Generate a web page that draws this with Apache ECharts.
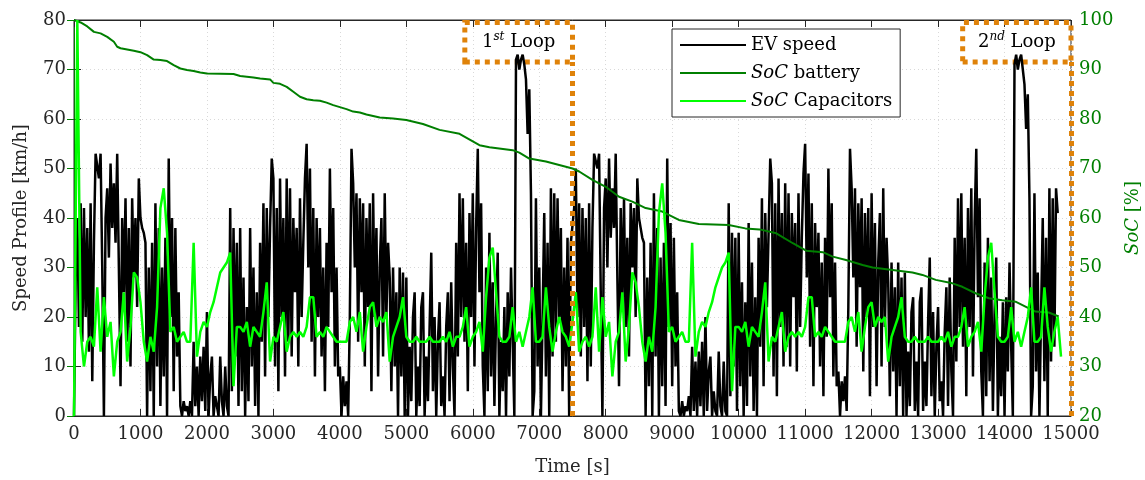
<!DOCTYPE html>
<html>
<head>
<meta charset="utf-8">
<script src="https://cdn.jsdelivr.net/npm/echarts@6/dist/echarts.min.js"></script>
<style>
  html, body { margin: 0; padding: 0; background: #fff; }
  #chart { width: 1145px; height: 480px; }
</style>
</head>
<body>
<div id="chart"></div>
<script>
// speed profile [km/h], one value every 25 s, loop 1 starts at 0 s, loop 2 at 7500 s
const speedStep = 25;
const speedLoop1 = [
  0, 28, 40, 18, 43, 15, 42, 20, 38, 13,
  43, 7, 35, 53, 53, 48, 53, 30, 0, 40,
  46, 32, 51, 38, 47, 35, 53, 30, 6, 40,
  25, 44, 15, 38, 10, 44, 28, 40, 22, 48,
  40, 38, 37, 35, 0, 30, 5, 35, 0, 43,
  10, 38, 2, 30, 8, 36, 0, 52, 20, 40,
  5, 38, 12, 25, 2, 0, 3, 1, 2, 0,
  3, 0, 15, 2, 10, 0, 12, 3, 14, 1,
  21, 0, 8, 12, 0, 4, 2, 0, 12, 3,
  0, 10, 2, 0, 42, 5, 38, 12, 35, 2,
  38, 5, 28, 0, 22, 3, 38, 10, 30, 2,
  25, 0, 35, 15, 43, 8, 42, 20, 38, 52,
  48, 10, 42, 5, 48, 20, 40, 8, 48, 15,
  46, 12, 40, 25, 38, 10, 44, 20, 35, 48,
  55, 30, 50, 15, 42, 8, 40, 20, 38, 12,
  30, 5, 35, 18, 50, 25, 42, 10, 30, 8,
  10, 0, 8, 2, 7, 0, 20, 54, 47, 30,
  45, 15, 44, 25, 43, 10, 40, 22, 43, 5,
  45, 20, 38, 8, 30, 40, 12, 45, 20, 35,
  28, 5, 30, 10, 25, 0, 30, 8, 29, 0,
  28, 0, 14, 3, 20, 25, 0, 10, 2, 22,
  25, 0, 12, 3, 18, 33, 5, 20, 0, 15,
  23, 2, 8, 0, 18, 25, 3, 27, 10, 0,
  35, 12, 45, 20, 44, 15, 35, 5, 41, 20,
  45, 10, 38, 54, 25, 43, 10, 0, 30, 5,
  37, 8, 27, 2, 20, 33, 0, 15, 5, 22,
  0, 25, 8, 30, 15, 0, 72, 73, 70, 72,
  73, 71, 68, 57, 66, 45, 0, 5, 44, 10,
  30, 0, 20, 41, 8, 35, 0, 46, 12, 45,
  15, 44, 20, 38, 5, 30, 10, 36, 0, 35
];
const speedLoop2 = [
  35, 42, 50, 20, 43, 12, 42, 18, 40, 7,
  43, 10, 38, 53, 53, 50, 53, 25, 0, 42,
  48, 30, 52, 36, 46, 38, 53, 28, 6, 42,
  22, 44, 18, 36, 12, 43, 30, 42, 20, 48,
  40, 38, 36, 35, 0, 28, 6, 35, 0, 45,
  12, 38, 0, 32, 6, 35, 2, 52, 18, 39,
  6, 36, 10, 25, 1, 0, 3, 0, 2, 1,
  4, 0, 14, 1, 11, 0, 13, 2, 15, 0,
  20, 1, 9, 12, 0, 5, 1, 0, 13, 2,
  0, 11, 1, 0, 43, 4, 37, 10, 36, 1,
  37, 6, 27, 0, 23, 2, 39, 8, 31, 1,
  24, 0, 36, 14, 44, 6, 41, 22, 37, 52,
  47, 8, 43, 4, 48, 18, 41, 10, 47, 14,
  45, 10, 41, 24, 39, 9, 45, 18, 36, 49,
  55, 28, 49, 14, 43, 6, 39, 22, 37, 10,
  31, 4, 36, 16, 50, 24, 43, 8, 31, 6,
  9, 0, 7, 3, 8, 1, 22, 54, 46, 28,
  46, 14, 43, 26, 44, 9, 41, 20, 42, 4,
  45, 18, 39, 6, 31, 41, 10, 46, 18, 36,
  27, 4, 31, 9, 26, 0, 31, 6, 28, 0,
  29, 0, 13, 2, 21, 24, 1, 11, 0, 23,
  26, 1, 11, 2, 19, 32, 4, 21, 0, 14,
  22, 3, 7, 0, 17, 26, 2, 28, 9, 0,
  36, 11, 44, 18, 45, 14, 36, 4, 42, 18,
  46, 8, 39, 54, 24, 44, 9, 0, 31, 4,
  36, 7, 28, 1, 21, 32, 0, 16, 4, 23,
  0, 24, 9, 31, 14, 0, 71, 73, 70, 72,
  73, 70, 67, 58, 65, 44, 0, 6, 45, 9,
  29, 0, 21, 40, 7, 36, 0, 46, 11, 44,
  14, 46, 41
];

// capacitor SoC [%], one value every 50 s
const capStep = 50;
const capLoop1 = [
  20, 100, 37, 30, 35, 36, 34, 46, 33, 44,
  36, 39, 28, 35, 37, 45, 31, 38, 49, 48,
  43, 35, 31, 36, 33, 42, 62, 66, 57, 37,
  38, 35, 36, 37, 35, 35, 55, 32, 37, 39,
  38, 41, 43, 46, 49, 50, 51, 53, 26, 38,
  38, 37, 39, 34, 38, 37, 36, 41, 47, 31,
  36, 35, 38, 41, 33, 36, 37, 36, 37, 36,
  38, 44, 44, 36, 37, 36, 38, 37, 36, 35,
  35, 35, 35, 39, 40, 37, 41, 33, 38, 42,
  43, 38, 40, 39, 41, 31, 36, 38, 40, 44,
  36, 35, 35, 36, 35, 35, 35, 36, 35, 35,
  35, 36, 35, 37, 34, 36, 36, 38, 42, 34,
  36, 37, 39, 33, 44, 52, 54, 45, 36, 35,
  35, 36, 42, 35, 37, 34, 37, 40, 46, 35,
  35, 36, 46, 38, 33, 37, 40, 37, 36, 34
];
const capLoop2 = [
  39, 45, 33, 35, 36, 34, 36, 46, 33, 44,
  36, 39, 28, 35, 37, 45, 31, 38, 49, 47,
  42, 35, 31, 36, 33, 42, 61, 67, 57, 37,
  38, 35, 36, 37, 35, 35, 55, 32, 37, 39,
  38, 41, 43, 46, 48, 50, 51, 53, 25, 38,
  38, 37, 39, 34, 38, 37, 36, 41, 47, 31,
  36, 35, 38, 41, 33, 36, 37, 36, 37, 36,
  38, 44, 44, 36, 37, 36, 38, 37, 36, 35,
  35, 35, 35, 39, 40, 37, 41, 33, 38, 42,
  43, 38, 40, 39, 40, 31, 36, 38, 40, 44,
  36, 35, 35, 36, 35, 35, 35, 36, 35, 35,
  35, 36, 35, 37, 34, 36, 36, 38, 42, 34,
  36, 37, 39, 33, 44, 52, 55, 45, 36, 35,
  35, 36, 42, 35, 37, 34, 37, 40, 46, 35,
  35, 36, 46, 38, 33, 37, 40, 32
];

// battery SoC [%]
const battTime = [0, 100, 200, 300, 400, 500, 600, 650, 700, 900, 1000, 1100, 1200, 1300, 1400, 1500,
  1600, 1700, 1800, 1900, 2000, 2400, 2500, 2700, 2800, 2950, 3000, 3100, 3200, 3300, 3400, 3500,
  3600, 3700, 3800, 3900, 4000, 4100, 4200, 4300, 4400, 4500, 4600, 4800, 5000, 5250, 5500, 5800,
  6100, 6250, 6600, 6700, 6850, 7100, 7300, 7500, 7600, 7800, 8000, 8200, 8400, 8600, 8850, 9100,
  9400, 9850, 10100, 10316, 10566, 10815, 11015, 11265, 11415, 11615, 11865, 12015, 12315, 12615,
  12765, 12965, 13215, 13365, 13565, 13765, 13965, 14165, 14315, 14465, 14665, 14815];
const battSoC = [100, 99.5, 98.7, 97.6, 97.3, 96.6, 95.6, 94.6, 94.3, 93.8, 93.5, 92.9, 92.0, 91.9, 91.7, 90.9,
  90.2, 89.9, 89.7, 89.4, 89.2, 89.1, 88.7, 88.4, 88.2, 88.0, 87.3, 87.1, 86.5, 85.5, 84.5, 84.0,
  83.8, 83.7, 83.3, 82.8, 82.4, 82.0, 81.5, 81.3, 80.9, 80.6, 80.3, 80.1, 79.8, 79.0, 77.8, 77.0,
  74.7, 74.3, 73.7, 73.2, 72.0, 71.4, 70.7, 70.0, 69.4, 67.7, 66.3, 64.3, 63.3, 62.0, 61.3, 59.6,
  58.8, 58.6, 57.9, 57.7, 56.9, 54.9, 53.4, 53.1, 52.2, 51.5, 50.5, 50.0, 49.5, 49.0,
  48.5, 47.5, 46.8, 46.1, 44.8, 43.8, 43.4, 43.1, 42.1, 41.1, 40.9, 40.1];

const loopStart = [0, 7500];
const xTicks = { min: 0, max: 15000, interval: 1000 };

const font = 'DejaVu Serif, Liberation Serif, serif';
const fs = 18;
const axisColor = '#262626';
const socColor = '#007F00';
const orange = '#DF8209';

function toPairs(values, start, step) {
  return values.map((v, i) => [start + i * step, v]);
}

const speedData = toPairs(speedLoop1, loopStart[0], speedStep)
  .concat(toPairs(speedLoop2, loopStart[1], speedStep));
const capData = toPairs(capLoop1, loopStart[0], capStep)
  .concat(toPairs(capLoop2, loopStart[1], capStep));
const battData = battTime.map((t, i) => [t, battSoC[i]]);

const chart = echarts.init(document.getElementById('chart'));

const dotted = [5, 5];
const plain = v => String(v);

chart.setOption({
  animation: false,
  textStyle: { fontFamily: font },
  grid: {
    left: 74, right: 74, top: 20, bottom: 64,
    outerBoundsMode: 'none', containLabel: false,
    show: true, borderColor: axisColor, borderWidth: 1
  },
  legend: {
    orient: 'vertical',
    left: 672,
    top: 29,
    padding: [6, 8, 6, 8],
    itemGap: 8,
    itemWidth: 66,
    itemHeight: 2,
    icon: 'rect',
    backgroundColor: '#fff',
    borderColor: axisColor,
    borderWidth: 1,
    data: ['EV speed', 'SoC battery', 'SoC Capacitors'],
    formatter: n => n.startsWith('SoC') ? '{i|SoC}' + n.slice(3) : n,
    textStyle: {
      fontFamily: font, fontSize: fs, color: '#000', lineHeight: 20,
      rich: { i: { fontStyle: 'italic', fontFamily: font, fontSize: fs } }
    }
  },
  xAxis: [{
    type: 'value',
    min: xTicks.min, max: xTicks.max, interval: xTicks.interval,
    name: 'Time [s]', nameLocation: 'middle', nameGap: 42,
    nameTextStyle: { fontFamily: font, fontSize: fs, color: axisColor },
    axisLine: { lineStyle: { color: axisColor } },
    axisTick: { inside: true, length: 7, lineStyle: { color: axisColor } },
    axisLabel: { fontFamily: font, fontSize: fs, color: axisColor, margin: 9, formatter: plain },
    splitLine: { show: true, lineStyle: { color: '#d9d9d9', type: [1, 3] } }
  }, {
    type: 'value', position: 'top',
    min: xTicks.min, max: xTicks.max, interval: xTicks.interval,
    axisLine: { lineStyle: { color: axisColor } },
    axisTick: { inside: true, length: 7, lineStyle: { color: axisColor } },
    axisLabel: { show: false },
    splitLine: { show: false }
  }],
  yAxis: [{
    type: 'value', min: 0, max: 80, interval: 10,
    name: 'Speed Profile [km/h]', nameLocation: 'middle', nameGap: 44,
    nameTextStyle: { fontFamily: font, fontSize: fs, color: axisColor },
    axisLine: { show: true, lineStyle: { color: axisColor } },
    axisTick: { show: true, inside: true, length: 7, lineStyle: { color: axisColor } },
    axisLabel: { fontFamily: font, fontSize: fs, color: axisColor, margin: 8 },
    splitLine: { show: true, lineStyle: { color: '#d9d9d9', type: [1, 3] } }
  }, {
    type: 'value', min: 20, max: 100, interval: 10, position: 'right',
    name: '{i|SoC} [%]', nameLocation: 'middle', nameGap: 46, nameRotate: 90,
    nameTextStyle: {
      fontFamily: font, fontSize: fs, color: socColor,
      rich: { i: { fontStyle: 'italic', fontFamily: font, fontSize: fs, color: socColor } }
    },
    axisLine: { show: true, lineStyle: { color: socColor } },
    axisTick: { show: true, inside: true, length: 7, lineStyle: { color: socColor } },
    axisLabel: { fontFamily: font, fontSize: fs, color: socColor, margin: 8 },
    splitLine: { show: false }
  }],
  series: [{
    name: 'EV speed', type: 'line', data: speedData,
    showSymbol: false, symbol: 'none',
    lineStyle: { color: '#000', width: 2.5 }, itemStyle: { color: '#000' }
  }, {
    name: 'SoC battery', type: 'line', yAxisIndex: 1, data: battData,
    showSymbol: false, symbol: 'none',
    lineStyle: { color: socColor, width: 2 }, itemStyle: { color: socColor }
  }, {
    name: 'SoC Capacitors', type: 'line', yAxisIndex: 1, data: capData,
    showSymbol: false, symbol: 'none',
    lineStyle: { color: '#00FF00', width: 2.5 }, itemStyle: { color: '#00FF00' }
  }, {
    name: 'loops', type: 'line', data: [], z: 5,
    markArea: {
      silent: true,
      itemStyle: { color: 'rgba(0,0,0,0)', borderColor: orange, borderWidth: 5, borderType: dotted },
      label: {
        position: 'inside',
        formatter: p => {
          const [n, s] = p.name.split('|');
          return '{a|' + n + '}{b|' + s + '}{a| Loop}';
        },
        rich: {
          a: { fontFamily: font, fontSize: fs, color: '#000', lineHeight: 22 },
          b: { fontFamily: font, fontSize: 12, color: '#000', fontStyle: 'italic', verticalAlign: 'top', lineHeight: 22, padding: [0, 0, 10, 0] }
        }
      },
      data: [
        [{ name: '1|st', coord: [5880, 71.5] }, { coord: [7500, 79.5] }],
        [{ name: '2|nd', coord: [13370, 71.5] }, { coord: [15000, 79.5] }]
      ]
    },
    markLine: {
      silent: true, symbol: 'none',
      label: { show: false },
      lineStyle: { color: orange, width: 5, type: dotted },
      data: [
        [{ coord: [7500, 0] }, { coord: [7500, 71.5] }],
        [{ coord: [15000, 0] }, { coord: [15000, 71.5] }]
      ]
    }
  }]
});
</script>
</body>
</html>
